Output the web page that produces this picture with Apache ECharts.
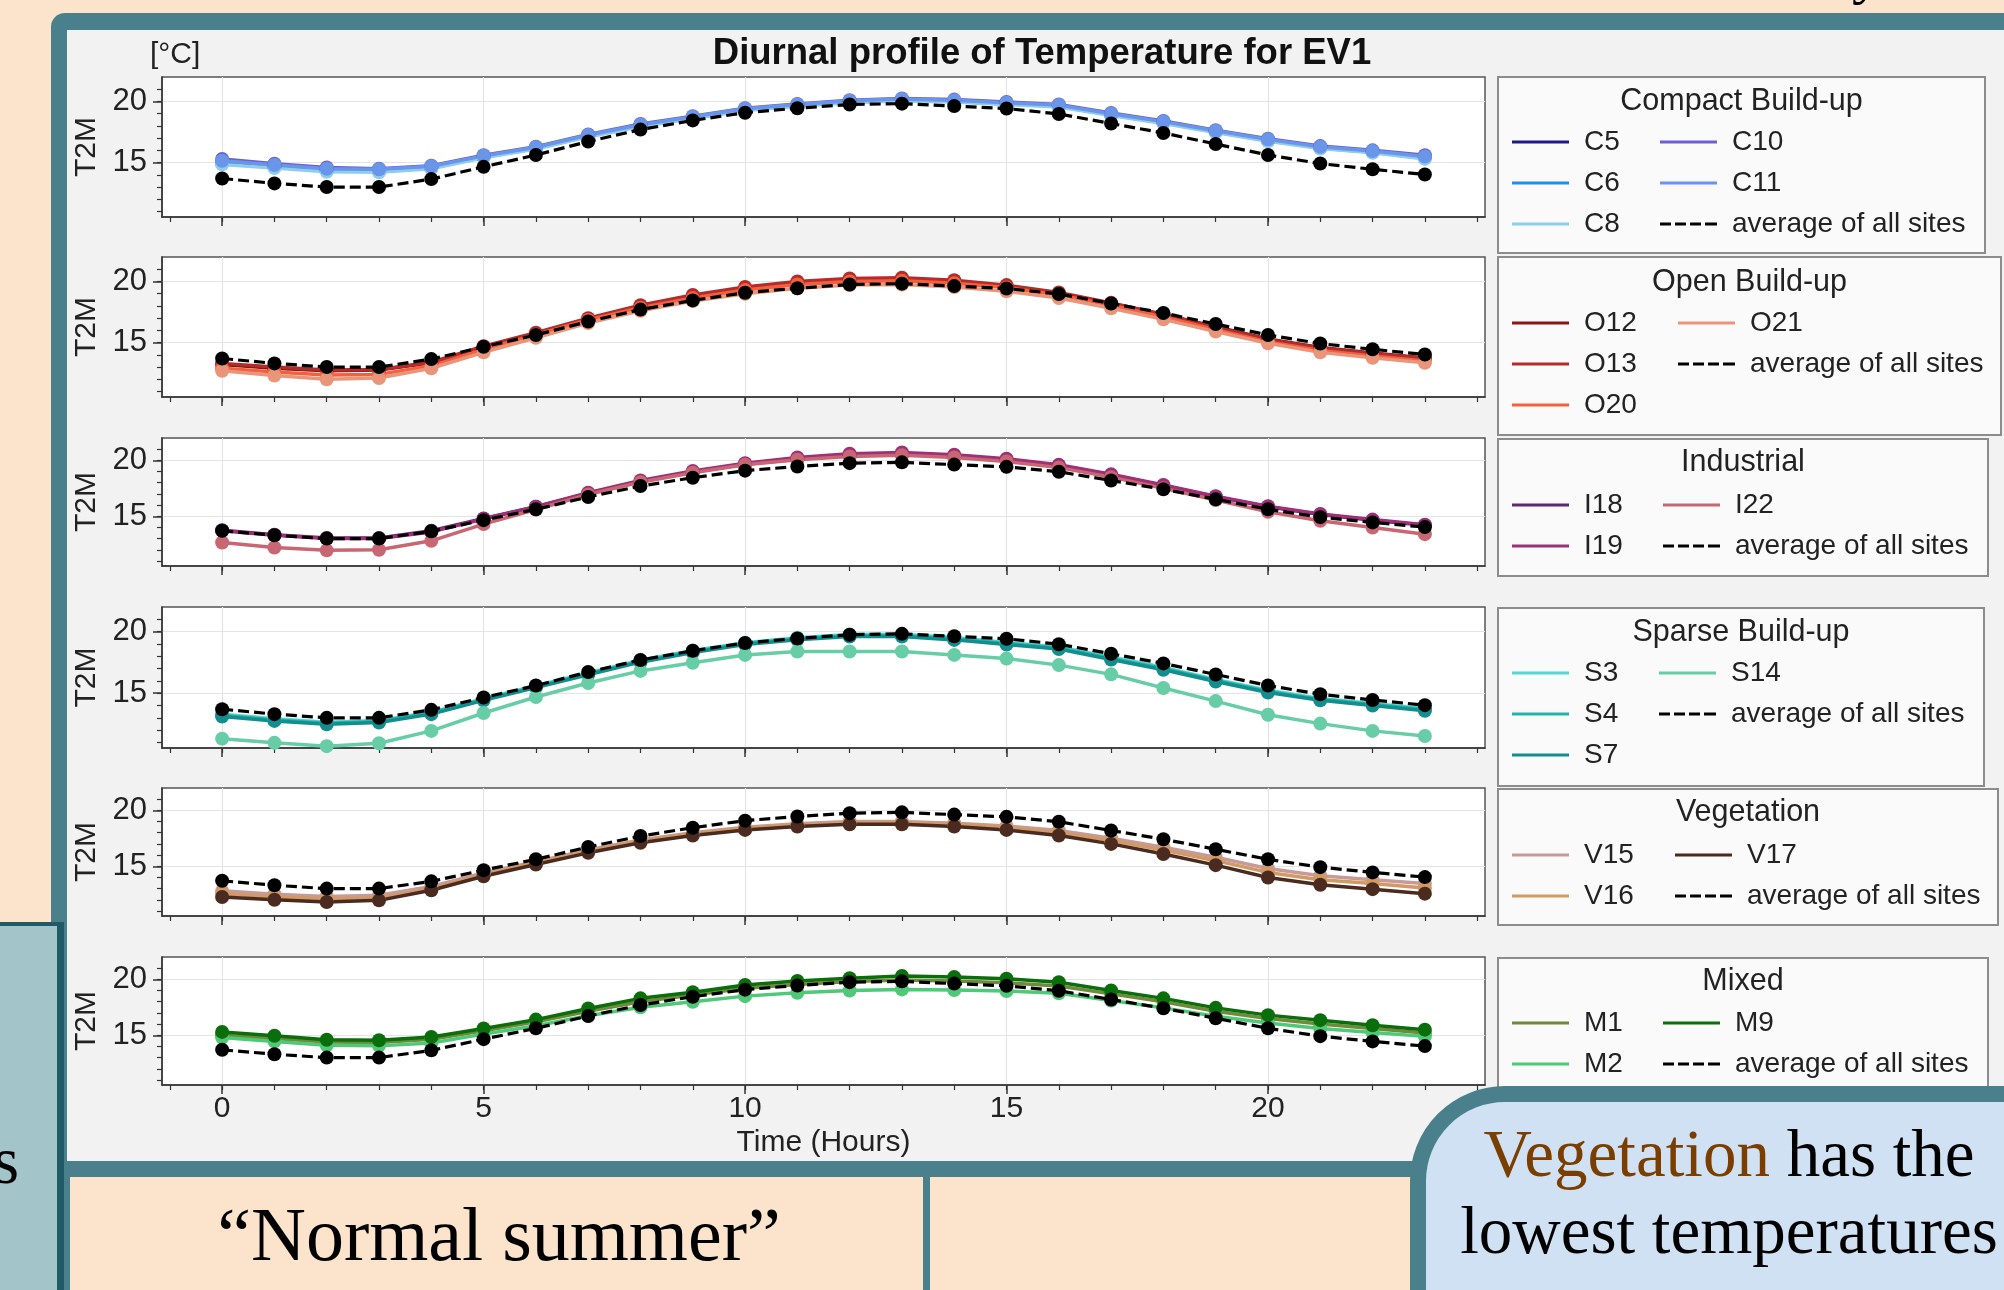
<!DOCTYPE html>
<html><head><meta charset="utf-8">
<script src="https://cdn.jsdelivr.net/npm/echarts@6/dist/echarts.min.js"></script>
<style>
html,body{margin:0;padding:0;width:2004px;height:1290px;overflow:hidden;background:#fce4cc;position:relative;}
.abs{position:absolute;box-sizing:content-box;}
.serif{font-family:"Liberation Serif","DejaVu Serif",serif;color:#000;}
</style></head><body>
<div class="abs" style="left:51px;top:13px;width:2000px;height:1164px;background:#4a808c;border-top-left-radius:14px;"></div>
<div class="abs" style="left:67px;top:30px;width:1990px;height:1131px;background:#f2f2f2;"></div>
<div id="chart" class="abs" style="left:0;top:0;width:2004px;height:1290px;z-index:1;"></div>
<div class="abs serif" style="left:1852px;top:-58px;font-size:60px;line-height:60px;z-index:0;">y</div>
<div class="abs" style="left:0;top:922px;width:57px;height:368px;background:#a3c5c9;border-top:4px solid #1f5a66;border-right:7px solid #1f5a66;z-index:2;"></div>
<div class="abs serif" style="left:-7px;top:1127px;font-size:67px;line-height:67px;z-index:3;">s</div>
<div class="abs" style="left:64px;top:1161px;width:1400px;height:16px;background:#4a808c;z-index:2;"></div>
<div class="abs" style="left:64px;top:1177px;width:853px;height:113px;background:#fce4cc;border-left:6px solid #4a808c;border-right:7px solid #4a808c;z-index:2;"></div>
<div class="abs serif" style="left:70px;top:1197px;width:858px;text-align:center;font-size:76px;line-height:75px;z-index:3;">“Normal summer”</div>
<div class="abs serif" style="left:1410px;top:1086px;width:606px;height:300px;padding-top:13px;background:#cfe1f2;border:16px solid #4a808c;border-top-left-radius:95px;z-index:4;text-align:center;font-size:67px;line-height:77px;white-space:nowrap;"><span style="color:#7a3e00">Vegetation</span> has the<br>lowest temperatures</div>
<script>
const hours = [0,1,2,3,4,5,6,7,8,9,10,11,12,13,14,15,16,17,18,19,20,21,22,23];
const xMajor = [0,5,10,15,20];
const xMinor = [-1,0,1,2,3,4,5,6,7,8,9,10,11,12,13,14,15,16,17,18,19,20,21,22,23,24];
const yMajor = [15,20];
const yMinor = [11,12,13,14,15,16,17,18,19,20,21];

const avgAll = [13.7,13.3,13.0,13.0,13.65,14.65,15.62,16.72,17.7,18.45,19.08,19.45,19.75,19.82,19.62,19.42,18.98,18.2,17.42,16.52,15.62,14.92,14.45,14.03];

const C5  = [15.0,14.7,14.4,14.35,14.6,15.45,16.2,17.2,18.05,18.7,19.35,19.7,20.0,20.15,20.05,19.85,19.65,18.95,18.3,17.55,16.85,16.25,15.9,15.45];
const C6  = [14.95,14.65,14.35,14.3,14.55,15.45,16.15,17.15,18.0,18.65,19.3,19.65,19.95,20.1,20.0,19.8,19.6,18.9,18.25,17.5,16.8,16.2,15.85,15.4];
const C8  = [14.85,14.55,14.25,14.2,14.5,15.4,16.1,17.1,17.95,18.6,19.25,19.6,19.9,20.05,19.95,19.75,19.55,18.85,18.2,17.45,16.75,16.15,15.8,15.3];
const C10 = [15.3,14.9,14.6,14.5,14.75,15.6,16.3,17.3,18.15,18.8,19.45,19.8,20.1,20.25,20.15,19.95,19.75,19.05,18.4,17.65,16.95,16.35,16.0,15.6];
const C11 = [15.15,14.8,14.5,14.45,14.7,15.55,16.25,17.25,18.1,18.75,19.4,19.75,20.05,20.2,20.1,19.9,19.7,19.0,18.35,17.6,16.9,16.3,15.95,15.5];

const O12 = [13.2,12.9,12.7,12.75,13.35,14.6,15.7,16.9,17.95,18.75,19.4,19.85,20.1,20.2,20.0,19.6,19.0,18.2,17.3,16.3,15.3,14.6,14.15,13.75];
const O13 = [13.3,13.0,12.75,12.8,13.4,14.7,15.8,17.0,18.05,18.9,19.55,20.0,20.25,20.3,20.1,19.7,19.1,18.25,17.3,16.25,15.25,14.55,14.1,13.7];
const O20 = [12.9,12.6,12.35,12.4,13.1,14.45,15.65,16.85,17.85,18.65,19.3,19.75,20.0,20.05,19.85,19.5,18.9,18.05,17.1,16.05,15.05,14.35,13.9,13.5];
const O21 = [12.7,12.3,12.0,12.1,12.9,14.2,15.4,16.6,17.6,18.4,19.0,19.45,19.7,19.75,19.55,19.2,18.65,17.8,16.9,15.9,14.95,14.2,13.75,13.35];

const I18 = [13.75,13.35,13.05,13.05,13.7,14.8,15.85,17.05,18.1,18.95,19.65,20.1,20.45,20.55,20.35,20.05,19.55,18.7,17.75,16.75,15.85,15.15,14.65,14.2];
const I19 = [13.7,13.3,13.0,13.0,13.6,14.75,15.85,17.1,18.2,19.05,19.75,20.25,20.6,20.7,20.5,20.15,19.6,18.75,17.8,16.8,15.9,15.2,14.7,14.25];
const I22 = [12.65,12.2,11.95,12.0,12.8,14.3,15.6,16.95,18.05,18.9,19.6,20.05,20.35,20.45,20.25,19.9,19.35,18.5,17.5,16.45,15.4,14.6,14.0,13.4];

const S3  = [13.3,12.92,12.65,12.78,13.46,14.56,15.6,16.65,17.68,18.46,19.1,19.5,19.76,19.78,19.52,19.12,18.76,17.94,17.1,16.12,15.24,14.58,14.16,13.76];
const S4  = [13.2,12.83,12.56,12.7,13.39,14.5,15.53,16.58,17.6,18.39,19.03,19.42,19.69,19.69,19.42,19.03,18.67,17.83,17.0,16.03,15.14,14.5,14.08,13.67];
const S7  = [13.1,12.75,12.48,12.62,13.3,14.42,15.45,16.5,17.52,18.3,18.95,19.34,19.6,19.6,19.33,18.95,18.58,17.74,16.9,15.95,15.06,14.42,14.0,13.58];
const S14 = [11.31,10.97,10.7,10.94,11.94,13.39,14.69,15.83,16.81,17.47,18.11,18.39,18.39,18.39,18.11,17.81,17.28,16.53,15.42,14.36,13.25,12.53,11.94,11.53];

const V15 = [12.8,12.5,12.3,12.4,13.2,14.4,15.4,16.45,17.35,18.0,18.5,18.8,19.0,19.0,18.85,18.6,18.2,17.5,16.7,15.8,14.8,14.15,13.8,13.45];
const V16 = [12.55,12.25,12.05,12.15,13.0,14.25,15.3,16.35,17.25,17.9,18.4,18.7,18.9,18.9,18.75,18.45,18.0,17.3,16.45,15.5,14.45,13.8,13.45,13.05];
const V17 = [12.25,12.0,11.8,11.95,12.85,14.1,15.15,16.2,17.1,17.75,18.25,18.55,18.75,18.75,18.55,18.25,17.75,17.0,16.1,15.1,14.0,13.35,12.95,12.55];

const M1 = [15.0,14.7,14.4,14.35,14.65,15.4,16.2,17.15,18.0,18.6,19.2,19.55,19.8,19.95,19.85,19.7,19.4,18.7,18.0,17.15,16.5,16.0,15.6,15.2];
const M2 = [14.8,14.45,14.1,14.05,14.3,15.1,15.85,16.75,17.5,18.0,18.5,18.8,19.0,19.1,19.05,18.95,18.75,18.1,17.45,16.7,16.1,15.6,15.25,14.9];
const M9 = [15.3,14.95,14.6,14.55,14.85,15.6,16.4,17.4,18.3,18.85,19.5,19.85,20.1,20.3,20.2,20.05,19.75,19.0,18.3,17.45,16.8,16.35,15.9,15.5];

const FONT = '"Liberation Sans", Arial, Helvetica, sans-serif';
const AVG = 'average of all sites';
const DASH_ICON = 'path://M0,0h11v3h-11zM15,0h11v3h-11zM30,0h11v3h-11zM45,0h12v3h-12z';

const panels = [
  {title:'Compact Build-up', names:['C5','C6','C8','C10','C11'], values:[C5,C6,C8,C10,C11],
   colors:['#1c1c7c','#2a8be6','#8fcdec','#6c5fcf','#6a96ea'], col1:['C5','C6','C8'], col2:['C10','C11'],
   top:77, height:140, box:[1498,77,487,176], titleY:102, rowY:142, col2X:1660},
  {title:'Open Build-up', names:['O12','O13','O20','O21'], values:[O12,O13,O20,O21],
   colors:['#8b1414','#b52a2a','#f2603e','#e8957a'], col1:['O12','O13','O20'], col2:['O21'],
   top:257, height:140, box:[1498,257,503,178], titleY:283, rowY:323, col2X:1678},
  {title:'Industrial', names:['I18','I19','I22'], values:[I18,I19,I22],
   colors:['#5c2b6d','#a02f78','#c96673'], col1:['I18','I19'], col2:['I22'],
   top:438, height:128, box:[1498,439,490,137], titleY:463, rowY:505, col2X:1663},
  {title:'Sparse Build-up', names:['S3','S4','S7','S14'], values:[S3,S4,S7,S14],
   colors:['#4fdbcf','#24b3ab','#138d8d','#66cda6'], col1:['S3','S4','S7'], col2:['S14'],
   top:607, height:141, box:[1498,608,486,178], titleY:633, rowY:673, col2X:1659},
  {title:'Vegetation', names:['V15','V16','V17'], values:[V15,V16,V17],
   colors:['#c79999','#d19a62','#4b2a20'], col1:['V15','V16'], col2:['V17'],
   top:788, height:128, box:[1498,789,500,136], titleY:813, rowY:855, col2X:1675},
  {title:'Mixed', names:['M1','M2','M9'], values:[M1,M2,M9],
   colors:['#6f8a3a','#4fc878','#0a6e0a'], col1:['M1','M2'], col2:['M9'],
   top:957, height:128, box:[1498,958,490,142], titleY:982, rowY:1023, col2X:1663}
];

const grids=[], xAxes=[], yAxes=[], series=[], legends=[], graphics=[];
const axisColor = '#333';
panels.forEach((p, i) => {
  const last = i === panels.length - 1;
  grids.push({left:162, top:p.top, width:1323, height:p.height, show:true, backgroundColor:'#ffffff',
    borderColor:'#555', borderWidth:1.5, containLabel:false});
  xAxes.push({type:'value', gridIndex:i, min:-1.15, max:24.15, position:'bottom',
    axisLine:{show:true, onZero:false, lineStyle:{color:axisColor, width:1.5}},
    axisTick:{show:true, customValues:xMajor, length:9, lineStyle:{color:axisColor, width:1.5}},
    axisLabel:{show:last, customValues:xMajor, fontSize:30, color:'#222', margin:9, fontFamily:FONT},
    splitLine:{show:true, lineStyle:{color:'#e4e4e4', width:1.2}},
    name:last?'Time (Hours)':'', nameLocation:'middle', nameGap:43,
    nameTextStyle:{fontSize:30, color:'#222', fontFamily:FONT}});
  xAxes.push({type:'value', gridIndex:i, min:-1.15, max:24.15, position:'bottom',
    axisLine:{show:false, onZero:false}, axisLabel:{show:false}, splitLine:{show:false},
    axisTick:{show:true, customValues:xMinor, length:5, lineStyle:{color:axisColor, width:1.2}}});
  yAxes.push({type:'value', gridIndex:i, min:10.55, max:22.0, position:'left',
    axisLine:{show:true, onZero:false, lineStyle:{color:axisColor, width:1.5}},
    axisTick:{show:true, customValues:yMajor, length:9, lineStyle:{color:axisColor, width:1.5}},
    axisLabel:{show:true, customValues:yMajor, fontSize:31, color:'#222', margin:15, fontFamily:FONT},
    splitLine:{show:true, lineStyle:{color:'#e4e4e4', width:1.2}},
    name:'T2M', nameLocation:'middle', nameGap:52, nameRotate:90,
    nameTextStyle:{fontSize:30, color:'#222', fontFamily:FONT}});
  yAxes.push({type:'value', gridIndex:i, min:10.55, max:22.0, position:'left', offset:0,
    axisLine:{show:false, onZero:false}, axisLabel:{show:false}, splitLine:{show:false},
    axisTick:{show:true, customValues:yMinor, length:5, lineStyle:{color:axisColor, width:1.2}}});

  p.names.forEach((n, k) => {
    series.push({type:'line', name:n, xAxisIndex:2*i, yAxisIndex:2*i,
      data:hours.map((h, j) => [h, p.values[k][j]]),
      symbol:'circle', symbolSize:14, showSymbol:true,
      lineStyle:{width:3.5, color:p.colors[k]}, itemStyle:{color:p.colors[k], borderWidth:0},
      z:2, animation:false, emphasis:{disabled:true}});
  });
  series.push({type:'line', name:AVG, xAxisIndex:2*i, yAxisIndex:2*i,
    data:hours.map((h, j) => [h, avgAll[j]]),
    symbol:'circle', symbolSize:14, showSymbol:true,
    lineStyle:{width:3.2, color:'#000', type:[11,5]}, itemStyle:{color:'#000', borderWidth:0},
    z:3, animation:false, emphasis:{disabled:true}});

  const legBase = {orient:'vertical', padding:0, itemGap:0, itemWidth:57, itemHeight:3,
    selectedMode:false, z:10, itemStyle:{borderWidth:0},
    textStyle:{fontSize:28, lineHeight:41, color:'#222', fontFamily:FONT, padding:[0,0,0,10]}};
  legends.push(Object.assign({}, legBase, {left:1512, top:p.rowY-20.5,
    data:p.col1.map(n => ({name:n, icon:'rect'}))}));
  legends.push(Object.assign({}, legBase, {left:p.col2X, top:p.rowY-20.5,
    data:p.col2.map(n => ({name:n, icon:'rect'})).concat([{name:AVG, icon:DASH_ICON}])}));

  graphics.push({type:'rect', z:1, shape:{x:p.box[0], y:p.box[1], width:p.box[2], height:p.box[3]},
    style:{fill:'#fafafa', stroke:'#8c8c8c', lineWidth:2}});
  graphics.push({type:'text', z:5, x:p.box[0]+p.box[2]/2, y:p.titleY,
    style:{text:p.title, fontSize:30.5, fontFamily:FONT, fill:'#222', align:'center', verticalAlign:'middle', textAlign:'center', textVerticalAlign:'middle'}});
});

graphics.push({type:'text', z:5, x:1042, y:54,
  style:{text:'Diurnal profile of Temperature for EV1', fontSize:36.5, fontWeight:'bold', fontFamily:FONT, fill:'#111',
    align:'center', verticalAlign:'middle', textAlign:'center', textVerticalAlign:'middle'}});
graphics.push({type:'text', z:5, x:150, y:55,
  style:{text:'[°C]', fontSize:30, fontFamily:FONT, fill:'#222', align:'left', verticalAlign:'middle', textAlign:'left', textVerticalAlign:'middle'}});

const chart = echarts.init(document.getElementById('chart'), null, {renderer:'canvas'});
chart.setOption({
  backgroundColor:'transparent',
  animation:false,
  grid:grids, xAxis:xAxes, yAxis:yAxes, series:series, legend:legends,
  graphic:{elements:graphics}
});
</script>
</body></html>
